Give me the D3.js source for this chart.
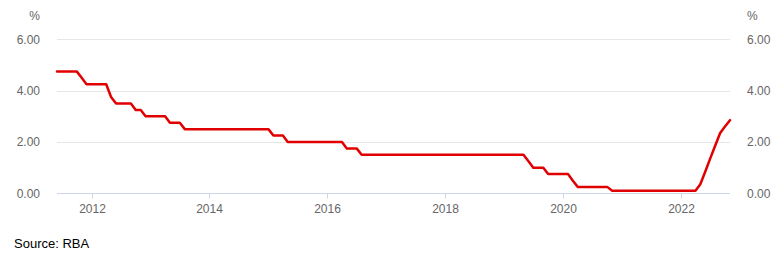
<!DOCTYPE html>
<html>
<head>
<meta charset="utf-8">
<script src="https://cdn.jsdelivr.net/npm/d3@7"></script>
<style>
  body { margin: 0; background: #fff; }
  svg text { font-family: "Liberation Sans", Arial, sans-serif; }
</style>
</head>
<body>
<div id="chart"></div>
<script>
// RBA cash rate target, monthly (Jun 2011 - Nov 2022)
var startMonth = "2011-06";
var rates = [
  // 2011 Jun-Dec
  4.75, 4.75, 4.75, 4.75, 4.75, 4.50, 4.25,
  // 2012
  4.25, 4.25, 4.25, 4.25, 3.75, 3.50, 3.50, 3.50, 3.50, 3.25, 3.25, 3.00,
  // 2013
  3.00, 3.00, 3.00, 3.00, 2.75, 2.75, 2.75, 2.50, 2.50, 2.50, 2.50, 2.50,
  // 2014
  2.50, 2.50, 2.50, 2.50, 2.50, 2.50, 2.50, 2.50, 2.50, 2.50, 2.50, 2.50,
  // 2015
  2.50, 2.25, 2.25, 2.25, 2.00, 2.00, 2.00, 2.00, 2.00, 2.00, 2.00, 2.00,
  // 2016
  2.00, 2.00, 2.00, 2.00, 1.75, 1.75, 1.75, 1.50, 1.50, 1.50, 1.50, 1.50,
  // 2017
  1.50, 1.50, 1.50, 1.50, 1.50, 1.50, 1.50, 1.50, 1.50, 1.50, 1.50, 1.50,
  // 2018
  1.50, 1.50, 1.50, 1.50, 1.50, 1.50, 1.50, 1.50, 1.50, 1.50, 1.50, 1.50,
  // 2019
  1.50, 1.50, 1.50, 1.50, 1.50, 1.25, 1.00, 1.00, 1.00, 0.75, 0.75, 0.75,
  // 2020
  0.75, 0.75, 0.50, 0.25, 0.25, 0.25, 0.25, 0.25, 0.25, 0.25, 0.10, 0.10,
  // 2021
  0.10, 0.10, 0.10, 0.10, 0.10, 0.10, 0.10, 0.10, 0.10, 0.10, 0.10, 0.10,
  // 2022 Jan-Nov
  0.10, 0.10, 0.10, 0.10, 0.35, 0.85, 1.35, 1.85, 2.35, 2.60, 2.85
];
var yTicks = [0, 2, 4, 6];
var yearTicks = [2012, 2014, 2016, 2018, 2020, 2022];
var unitLabel = "%";
var sourceText = "Source: RBA";

var width = 784, height = 261;
var plotLeft = 57, plotRight = 730, plotTop = 39.3, plotBottom = 193.3;

var parseMonth = d3.timeParse("%Y-%m");
var t0 = parseMonth(startMonth);
var data = rates.map(function(v, i) { return { date: d3.timeMonth.offset(t0, i), value: v }; });

var svg = d3.select("#chart").append("svg")
  .attr("width", width)
  .attr("height", height);

var x = d3.scaleTime()
  .domain(d3.extent(data, function(d) { return d.date; }))
  .range([plotLeft, plotRight]);

var y = d3.scaleLinear()
  .domain([0, 6])
  .range([plotBottom, plotTop]);

// gridlines
svg.append("g").selectAll("line")
  .data(yTicks.filter(function(d) { return d !== 0; }))
  .enter().append("line")
    .attr("x1", plotLeft).attr("x2", plotRight)
    .attr("y1", function(d) { return Math.round(y(d)) + 0.5; })
    .attr("y2", function(d) { return Math.round(y(d)) + 0.5; })
    .attr("stroke", "#e6e6e6")
    .attr("stroke-width", 1.2);

// baseline + x ticks
var zeroY = Math.round(y(0)) + 0.5;
svg.append("line")
  .attr("x1", plotLeft).attr("x2", plotRight)
  .attr("y1", zeroY).attr("y2", zeroY)
  .attr("stroke", "#ccd6eb");

var xg = svg.append("g").selectAll("g")
  .data(yearTicks)
  .enter().append("g")
    .attr("transform", function(d) { return "translate(" + (Math.round(x(new Date(d, 0, 1))) + 0.5) + ",0)"; });
xg.append("line")
  .attr("y1", zeroY).attr("y2", zeroY + 5)
  .attr("stroke", "#ccd6eb");
xg.append("text")
  .attr("y", 213)
  .attr("text-anchor", "middle")
  .attr("font-size", 12)
  .attr("fill", "#666")
  .text(function(d) { return d; });

// y labels both sides
[{ x: 40, anchor: "end" }, { x: 747, anchor: "start" }].forEach(function(side) {
  svg.append("g").selectAll("text")
    .data(yTicks)
    .enter().append("text")
      .attr("x", side.x)
      .attr("y", function(d) { return y(d) + 4.5; })
      .attr("text-anchor", side.anchor)
      .attr("font-size", 12)
      .attr("fill", "#666")
      .text(function(d) { return d3.format(".2f")(d); });
  svg.append("text")
    .attr("x", side.x)
    .attr("y", 20)
    .attr("text-anchor", side.anchor)
    .attr("font-size", 12)
    .attr("fill", "#666")
    .text(unitLabel);
});

// series
var line = d3.line()
  .x(function(d) { return x(d.date); })
  .y(function(d) { return y(d.value); });

svg.append("path")
  .datum(data)
  .attr("d", line)
  .attr("fill", "none")
  .attr("stroke", "#e00000")
  .attr("stroke-width", 2.5)
  .attr("stroke-linejoin", "round")
  .attr("stroke-linecap", "round");

svg.append("text")
  .attr("x", 14)
  .attr("y", 248)
  .attr("font-size", 13)
  .attr("fill", "#000")
  .text(sourceText);
</script>
</body>
</html>
